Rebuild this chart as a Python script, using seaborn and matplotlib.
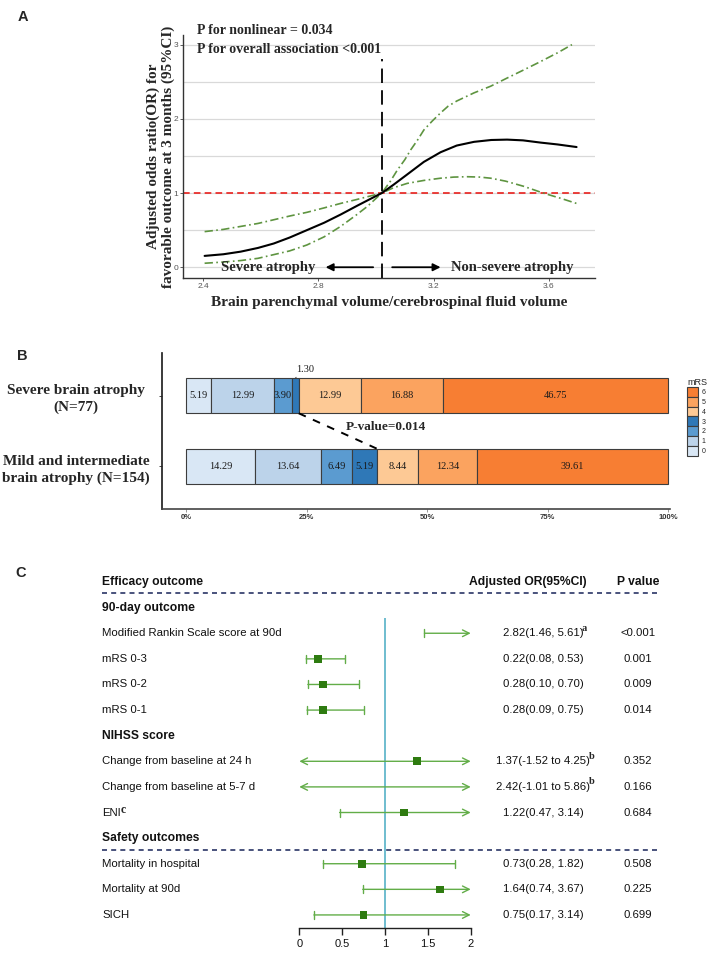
import numpy as np
import pandas as pd
import seaborn as sns
import matplotlib.pyplot as plt
import matplotlib.transforms as mtransforms
from matplotlib.patches import Patch

sns.set_theme(style='white')
plt.rcParams['font.family'] = ['Liberation Sans', 'DejaVu Sans']
SERIF = 'Liberation Serif'

# ---------------- data: panel A (spline curve)
or_x = [2.405, 2.47, 2.53, 2.59, 2.645, 2.70, 2.76, 2.82, 2.877, 2.935, 2.98, 3.02,
        3.06, 3.108, 3.166, 3.224, 3.28, 3.34, 3.40, 3.455, 3.51, 3.571, 3.63, 3.696]
or_y = [0.153, 0.175, 0.21, 0.26, 0.32, 0.40, 0.50, 0.60, 0.71, 0.83, 0.92, 1.0,
        1.11, 1.25, 1.42, 1.55, 1.64, 1.69, 1.715, 1.72, 1.71, 1.68, 1.655, 1.62]
upper_x = [2.405, 2.47, 2.53, 2.59, 2.645, 2.70, 2.76, 2.82, 2.877, 2.93, 2.97, 3.02,
           3.05, 3.074, 3.10, 3.12, 3.145, 3.166, 3.195, 3.224, 3.25, 3.28, 3.34, 3.398,
           3.455, 3.513, 3.57, 3.63, 3.68]
upper_y = [0.48, 0.51, 0.55, 0.59, 0.64, 0.69, 0.74, 0.80, 0.86, 0.91, 0.95, 1.0,
           1.16, 1.31, 1.45, 1.58, 1.72, 1.85, 1.97, 2.08, 2.17, 2.24, 2.35, 2.44,
           2.55, 2.66, 2.77, 2.89, 3.0]
lower_x = [2.405, 2.47, 2.53, 2.59, 2.645, 2.70, 2.76, 2.82, 2.877, 2.93, 2.97, 3.02,
           3.06, 3.108, 3.166, 3.224, 3.27, 3.317, 3.36, 3.398, 3.45, 3.513, 3.58, 3.64, 3.696]
lower_y = [0.054, 0.07, 0.09, 0.12, 0.17, 0.22, 0.30, 0.41, 0.55, 0.70, 0.82, 1.0,
           1.07, 1.13, 1.17, 1.20, 1.215, 1.22, 1.215, 1.20, 1.16, 1.09, 1.00, 0.93, 0.86]
cutoff = 3.02

# ---------------- data: panel B (mRS distribution, %)
mrs_levels = ['0', '1', '2', '3', '4', '5', '6']
mrs_colors = ['#d9e7f5', '#bcd3ea', '#5b9bd0', '#2f78b7', '#fdc995', '#fba35f', '#f77e33']
groups = ['Severe brain atrophy\n(N=77)', 'Mild and intermediate\nbrain atrophy (N=154)']
severe_pct = [5.19, 12.99, 3.90, 1.30, 12.99, 16.88, 46.75]
mild_pct = [14.29, 13.64, 6.49, 5.19, 8.44, 12.34, 39.61]
p_value_b = 'P-value=0.014'

# ---------------- data: panel C (forest plot)
outcomes = ['Efficacy outcome', '90-day outcome', 'Modified Rankin Scale score at 90d',
            'mRS 0-3', 'mRS 0-2', 'mRS 0-1', 'NIHSS score',
            'Change from baseline at 24 h', 'Change from baseline at 5-7 d', 'ENI',
            'Safety outcomes', 'Mortality in hospital', 'Mortality at 90d', 'SICH']
header_rows = [0, 1, 6, 10]
or_est = [np.nan, np.nan, 2.82, 0.22, 0.28, 0.28, np.nan, 1.37, 2.42, 1.22, np.nan, 0.73, 1.64, 0.75]
ci_low = [np.nan, np.nan, 1.46, 0.08, 0.10, 0.09, np.nan, -1.52, -1.01, 0.47, np.nan, 0.28, 0.74, 0.17]
ci_high = [np.nan, np.nan, 5.61, 0.53, 0.70, 0.75, np.nan, 4.25, 5.86, 3.14, np.nan, 1.82, 3.67, 3.14]
or_text = ['', '', '2.82(1.46, 5.61)', '0.22(0.08, 0.53)', '0.28(0.10, 0.70)', '0.28(0.09, 0.75)', '',
           '1.37(-1.52 to 4.25)', '2.42(-1.01 to 5.86)', '1.22(0.47, 3.14)', '',
           '0.73(0.28, 1.82)', '1.64(0.74, 3.67)', '0.75(0.17, 3.14)']
p_text = ['', '', '<0.001', '0.001', '0.009', '0.014', '', '0.352', '0.166', '0.684', '',
          '0.508', '0.225', '0.699']
or_sup = {2: 'a', 7: 'b', 8: 'b'}
label_sup = {9: 'c'}
forest_ticks = [0, 0.5, 1, 1.5, 2]

W, H = 708, 965
fig = plt.figure(figsize=(W / 100, H / 100), dpi=100)

# ============ Panel A
ax = fig.add_axes([183 / W, 1 - 278 / H, 412 / W, 243 / H])
green = '#5e9440'
sns.lineplot(x=upper_x, y=upper_y, ax=ax, color=green, lw=1.2, linestyle=(0, (5, 2, 1, 2)))
sns.lineplot(x=lower_x, y=lower_y, ax=ax, color=green, lw=1.2, linestyle=(0, (5, 2, 1, 2)))
sns.lineplot(x=or_x, y=or_y, ax=ax, color='black', lw=1.5)
ax.axhline(1, color='#e8201c', lw=1.2, linestyle=(0, (4, 2.5)), zorder=1)
ax.set_xlim(2.33, 3.76)
ax.set_ylim(-0.145, 3.13)
ax.vlines(cutoff, -0.145, 2.8, color='black', lw=1.3, linestyle=(0, (8, 4)))
ax.set_yticks([0, 1, 2, 3])
ax.set_yticks([0.5, 1.5, 2.5], minor=True)
ax.set_xticks([2.4, 2.8, 3.2, 3.6])
ax.grid(axis='y', which='both', color='#d9d9d9', lw=0.9)
ax.set_axisbelow(True)
ax.tick_params(which='major', length=2, width=0.6, color='#444', labelsize=6,
               labelcolor='#555', pad=1.5, left=True, bottom=True)
ax.tick_params(which='minor', length=0)
for s in ['top', 'right']:
    ax.spines[s].set_visible(False)
for s in ['left', 'bottom']:
    ax.spines[s].set_color('#333')
    ax.spines[s].set_linewidth(1)
ax.set_ylabel('Adjusted odds ratio(OR) for\nfavorable outcome at 3 months (95%CI)',
              fontsize=11, fontweight='bold', family=SERIF, linespacing=1.1)
ax.yaxis.set_label_coords(-0.02, 0.5)
ax.set_xlabel('Brain parenchymal volume/cerebrospinal fluid volume',
              fontsize=11, fontweight='bold', family=SERIF, va='top')
ax.xaxis.set_label_coords(0.5, -0.075)
ax.text(2.38, 3.19, 'P for nonlinear = 0.034', fontsize=10, fontweight='bold',
        family=SERIF, va='center')
ax.text(2.38, 2.93, 'P for overall association <0.001', fontsize=10, fontweight='bold',
        family=SERIF, va='center')
ax.text(2.79, 0, 'Severe atrophy', fontsize=10.5, fontweight='bold', family=SERIF,
        ha='right', va='center')
ax.text(3.259, 0, 'Non-severe atrophy', fontsize=10.5, fontweight='bold', family=SERIF,
        ha='left', va='center')
arrow_kw = dict(arrowstyle='-|>', color='black', lw=1.3, shrinkA=0, shrinkB=0, mutation_scale=11)
ax.annotate('', xy=(2.825, 0), xytext=(2.99, 0), arrowprops=arrow_kw)
ax.annotate('', xy=(3.224, 0), xytext=(3.056, 0), arrowprops=arrow_kw)

# ============ Panel B
axb = fig.add_axes([162 / W, 1 - 509 / H, 508 / W, 156 / H])
bar_h = 0.5
ypos = [1, 0]
for g_y, pcts in zip(ypos, [severe_pct, mild_pct]):
    left = 0
    for lvl, p, c in zip(mrs_levels, pcts, mrs_colors):
        w = p / 100
        axb.barh(g_y, w, left=left, height=bar_h, color=c, edgecolor='#3d3d3d', lw=0.8)
        if p >= 2:
            axb.text(left + w / 2, g_y, f'{p:.2f}', ha='center', va='center',
                     fontsize=7.5, family=SERIF, color='#1a1a1a')
        else:
            axb.annotate(f'{p:.2f}', xy=(left + w / 2, g_y + bar_h / 2), xytext=(7, 6),
                         textcoords='offset points', ha='center', va='center',
                         fontsize=7.5, family=SERIF, color='#1a1a1a',
                         arrowprops=dict(arrowstyle='-', lw=0.6, color='#333',
                                         shrinkA=0, shrinkB=0))
        left += w
sev_good = sum(severe_pct[:4]) / 100
mild_good = sum(mild_pct[:4]) / 100
axb.plot([sev_good, mild_good], [1 - bar_h / 2, 0 + bar_h / 2], color='black', lw=1.4,
         linestyle=(0, (4, 4)))
axb.text(0.332, 0.563, p_value_b, fontsize=9.5, fontweight='bold', family=SERIF,
         ha='left', va='center')
axb.set_xlim(-0.0498, 1.004)
axb.set_ylim(-0.6, 1.6)
axb.set_yticks(ypos)
axb.set_yticklabels(groups, fontsize=11, fontweight='bold', family=SERIF, linespacing=1.35)
shift = mtransforms.ScaledTranslation(0, -4 / 72, fig.dpi_scale_trans)
for t in axb.get_yticklabels():
    t.set_ha('center')
    t.set_multialignment('center')
    t.set_transform(t.get_transform() + shift)
axb.set_xticks([0, 0.25, 0.5, 0.75, 1])
axb.set_xticklabels(['0%', '25%', '50%', '75%', '100%'], fontsize=5.5, fontweight='bold',
                    color='#333')
axb.tick_params(axis='y', length=2, width=0.6, pad=60, left=True)
axb.tick_params(axis='x', length=2, width=0.6, pad=1.5, bottom=True, color='#888')
for s in ['top', 'right']:
    axb.spines[s].set_visible(False)
axb.spines['left'].set_color('#222')
axb.spines['bottom'].set_color('#444')
axb.spines['bottom'].set_linewidth(1.2)
handles = [Patch(facecolor=c, edgecolor='#3d3d3d', lw=0.8) for c in mrs_colors][::-1]
leg = axb.legend(handles, mrs_levels[::-1], title='mRS', loc='upper left',
                 bbox_to_anchor=(687 / W, 1 - 378 / H), bbox_transform=fig.transFigure,
                 frameon=False, fontsize=5, title_fontsize=6.5, handlelength=1.6,
                 handleheight=1.8, labelspacing=0, handletextpad=0.5, borderpad=0,
                 borderaxespad=0, alignment='left')

# ============ Panel C
axc = fig.add_axes([90 / W, 1 - 928 / H, 590 / W, 358 / H])
axc.set_xlim(-2.442, 4.442)
axc.set_ylim(13.51, -0.47)
rows = np.arange(len(outcomes))
x_lab, x_or, x_or_head, x_p = -2.30, 2.844, 2.669, 3.952
ci_color = '#62ad48'
sq_color = '#2e7b10'
navy = '#2a3566'

axc.vlines(1, 1.41, 13.51, color='#63b7cc', lw=1.3, zorder=1)
for yy in [0.43, 10.47]:
    axc.plot([x_lab, 4.21], [yy, yy], color=navy, lw=1.2, linestyle=(0, (3, 2.5)))

label_artists = {}
for i, lab in enumerate(outcomes):
    bold = i in header_rows
    label_artists[i] = axc.text(x_lab, i, lab, ha='left', va='center',
                                fontsize=8.7 if bold else 8.2,
                                fontweight='bold' if bold else 'normal', color='#111')
axc.text(x_or_head, 0, 'Adjusted OR(95%CI)', ha='center', va='center', fontsize=8.7,
         fontweight='bold', color='#111')
axc.text(x_p, 0, 'P value', ha='center', va='center', fontsize=8.7, fontweight='bold',
         color='#111')
for i in rows:
    if or_text[i]:
        t = axc.text(x_or, i, or_text[i], ha='center', va='center', fontsize=8.2, color='#111')
        axc.text(x_p, i, p_text[i], ha='center', va='center', fontsize=8.2, color='#111')
        if i in or_sup:
            axc.annotate(or_sup[i], xy=(1, 1), xycoords=t, xytext=(-1, 0),
                         textcoords='offset points', ha='left', va='center', fontsize=7.5,
                         fontweight='bold', family=SERIF)
for i, s in label_sup.items():
    axc.annotate(s, xy=(1, 1), xycoords=label_artists[i], xytext=(-0.5, -1.5),
                 textcoords='offset points', ha='left', va='center', fontsize=8.5,
                 fontweight='bold', family=SERIF)

x_min, x_max = forest_ticks[0], forest_ticks[-1]
for i in rows:
    lo, hi = ci_low[i], ci_high[i]
    if np.isnan(lo):
        continue
    left_open, right_open = lo < x_min, hi > x_max
    if left_open and right_open:
        style = '<->'
    elif right_open:
        style = ']->, widthA=0.24, lengthA=0'
    elif left_open:
        style = '<-[, widthB=0.24, lengthB=0'
    else:
        style = '|-|, widthA=0.24, widthB=0.24'
    axc.annotate('', xy=(min(hi, x_max), i), xytext=(max(lo, x_min), i),
                 arrowprops=dict(arrowstyle=style, color=ci_color, lw=1, shrinkA=0,
                                 shrinkB=0, mutation_scale=12))

pts = pd.DataFrame({'est': or_est, 'row': rows})
pts = pts[(pts['est'] >= x_min) & (pts['est'] <= x_max)]
sns.scatterplot(data=pts, x='est', y='row', ax=axc, marker='s', s=30, color=sq_color,
                edgecolor='none', zorder=3, legend=False)

axc.set_xticks(forest_ticks)
axc.set_xticklabels(['0', '0.5', '1', '1.5', '2'], fontsize=8, color='#111')
axc.set_yticks([])
axc.set_xlabel('')
axc.set_ylabel('')
axc.tick_params(axis='x', length=5, width=1, color='#222', pad=3, bottom=True)
for s in ['top', 'right', 'left']:
    axc.spines[s].set_visible(False)
axc.spines['bottom'].set_bounds(x_min, x_max)
axc.spines['bottom'].set_color('#222')
axc.spines['bottom'].set_linewidth(1)

# panel letters
for lab, (px, py) in {'A': (23, 17), 'B': (22, 356), 'C': (21, 573)}.items():
    fig.text(px / W, 1 - py / H, lab, ha='center', va='center', fontsize=10.5,
             fontweight='bold')

fig.savefig('out.png', dpi=100)
